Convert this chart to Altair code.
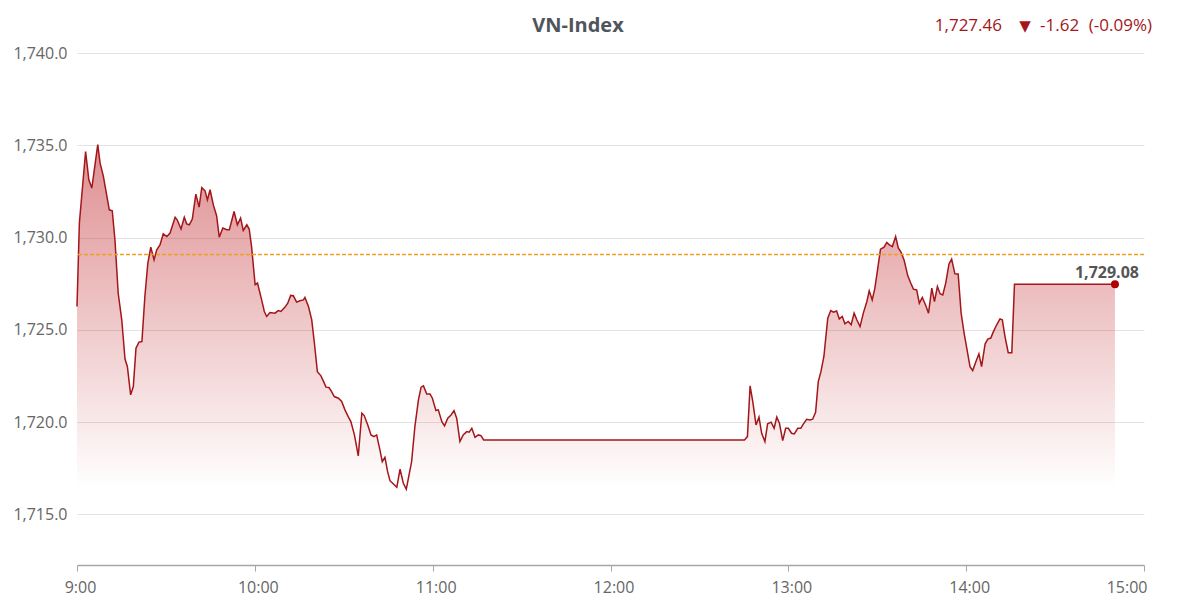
import altair as alt
import pandas as pd

# minutes after 9:00 and index value
minutes = [
    0, 0.8, 2.9, 4.0, 5.0, 7.0, 7.8, 8.9, 10.9, 11.9, 12.8, 13.9, 15.1, 16.2, 17.0,
    18.1, 19.0, 19.9, 20.9, 21.9, 22.9, 23.9, 24.9, 26.0, 26.9, 28.0, 29.1, 30.3,
    31.4, 33.1, 33.8, 35.1, 36.2, 37.0, 37.9, 38.9, 40.1, 41.2, 42.1, 43.2, 44.0,
    44.9, 46.0, 47.1, 48.0, 49.2, 50.5, 51.4, 53.0, 54.1, 55.2, 56.1, 57.3, 58.1,
    58.9, 60.1, 60.9,
    62.3, 63.2, 64.0, 65.1, 66.8, 67.9, 68.8, 70.2, 71.1, 72.1, 73.0, 74.1, 75.2,
    76.4, 76.9, 78.1, 79.2, 80.1, 81.1, 82.3, 83.2, 84.0, 85.0, 85.9, 86.8, 88.2,
    89.3, 90.4, 91.5, 92.4, 93.6, 94.9, 96.1, 96.9, 98.1, 99.2, 100.2, 101.1, 102.2,
    103.0, 103.9, 104.8, 105.6, 106.5, 107.9, 109.0, 110.1, 111.1, 112.9, 114.0,
    115.2, 116.1, 116.9, 118.0, 119.1, 119.9, 121.1, 121.9, 123.1, 124.0, 125.1,
    126.2, 127.2, 128.1, 129.2, 130.3, 131.5, 132.3, 133.2, 134.3, 135.4, 136.3,
    137.2, 225.2,
    226.2, 227.1, 228.0, 229.1, 230.1, 231.0, 232.1, 233.0, 234.2, 235.2, 236.1,
    237.0, 238.1, 239.1, 240.0, 241.1, 242.0, 243.2, 244.2, 245.1, 246.2, 247.3,
    248.2, 249.2, 250.1, 251.0, 252.0, 253.3, 254.3, 255.2, 256.3, 257.2, 258.2,
    259.1, 260.2, 261.2, 262.2, 263.1, 264.2, 265.3, 266.5, 267.3, 268.3, 269.2,
    270.1, 271.1, 272.3, 273.2, 274.1, 275.1, 276.2, 277.1, 278.0, 279.1, 280.3,
    281.3, 282.2, 283.3, 284.2, 285.2, 286.4, 287.3, 288.4, 289.3,
    290.3, 291.2, 292.1, 293.1, 294.2, 295.1, 296.2, 297.3, 298.3, 299.3, 300.2,
    301.3, 302.2, 303.3, 304.3, 305.2, 306.4, 307.3, 308.3, 309.2, 310.3, 311.4,
    312.2, 313.1, 314.2, 315.4, 316.3, 350.2,
]
values = [
    1726.26, 1730.78, 1734.66, 1733.13, 1732.68, 1735.03, 1734.03, 1733.31, 1731.50,
    1731.45, 1729.88, 1726.98, 1725.54, 1723.41, 1723.00, 1721.47, 1721.92, 1724.00,
    1724.33, 1724.36, 1726.80, 1728.61, 1729.48, 1728.79, 1729.33, 1729.60, 1730.20,
    1730.05, 1730.24, 1731.10, 1730.96, 1730.46, 1731.10, 1730.74, 1730.69, 1731.00,
    1732.35, 1731.65, 1732.71, 1732.53, 1732.04, 1732.59, 1731.77, 1731.18, 1730.02,
    1730.51, 1730.42, 1730.42, 1731.41, 1730.69, 1731.05, 1730.38, 1730.69, 1730.46,
    1729.51, 1727.44, 1727.53,
    1726.62, 1725.99, 1725.72, 1725.93, 1725.90, 1726.04, 1725.99, 1726.23, 1726.44,
    1726.86, 1726.84, 1726.50, 1726.57, 1726.62, 1726.75, 1726.26, 1725.54, 1724.27,
    1722.73, 1722.50, 1722.19, 1721.89, 1721.87, 1721.65, 1721.38, 1721.29, 1721.11,
    1720.66, 1720.29, 1720.02, 1719.30, 1718.16, 1720.48, 1720.35, 1719.84, 1719.30,
    1719.21, 1719.30, 1718.49, 1717.85, 1718.09, 1717.31, 1716.82, 1716.68, 1716.46,
    1717.44, 1716.68, 1716.36, 1717.85, 1719.75, 1721.20, 1721.89, 1721.96, 1721.52,
    1721.52, 1721.29, 1720.62, 1720.66, 1720.02, 1719.79, 1720.21, 1720.38, 1720.62,
    1720.21, 1718.94, 1719.30, 1719.48, 1719.45, 1719.66, 1719.17, 1719.30, 1719.26,
    1719.03, 1719.03,
    1719.21, 1721.96, 1721.11, 1719.84, 1720.26, 1719.39, 1718.94, 1719.90, 1719.99,
    1719.66, 1720.26, 1719.93, 1718.99, 1719.66, 1719.66, 1719.39, 1719.35, 1719.66,
    1719.66, 1719.90, 1720.15, 1720.11, 1720.15, 1720.53, 1722.19, 1722.73, 1723.55,
    1725.63, 1726.04, 1725.95, 1726.02, 1725.59, 1725.72, 1725.32, 1725.45, 1725.27,
    1725.90, 1725.54, 1725.17, 1725.90, 1726.53, 1727.11, 1726.62, 1727.26, 1728.25,
    1729.37, 1729.48, 1729.73, 1729.60, 1729.51, 1730.05, 1729.43, 1729.21, 1728.75,
    1727.92, 1727.53, 1727.20, 1727.16, 1726.44, 1726.75, 1726.30, 1725.90, 1727.26,
    1726.53,
    1727.34, 1726.95, 1726.89, 1727.53, 1728.57, 1728.83, 1728.03, 1728.02, 1725.90,
    1724.82, 1724.00, 1723.00, 1722.79, 1723.28, 1723.69, 1723.00, 1724.24, 1724.49,
    1724.55, 1724.90, 1725.27, 1725.59, 1725.54, 1724.63, 1723.76, 1723.76, 1727.46,
    1727.46,
]

ref_price = 1729.08
last_value = 1727.46
change = -1.62
change_pct = -0.09

hour_ticks = [0, 60, 120, 180, 240, 300, 360]
y_ticks = [1715, 1720, 1725, 1730, 1735, 1740]

FONT = "Open Sans"
RED = "#a3161a"

df = pd.DataFrame({"minute": minutes, "value": values})
df["base"] = min(values)

x_scale = alt.Scale(domain=[0, 360], nice=False)
y_scale = alt.Scale(domain=[1712.25, 1740], nice=False, zero=False)

x_axis = alt.Axis(
    values=hour_ticks,
    labelExpr="floor(datum.value / 60) + 9 + ':00'",
    grid=False,
    domainColor="#a6a6a6",
    domainWidth=1.5,
    tickColor="#a6a6a6",
    tickSize=6,
    labelPadding=8,
    labelOffset=3,
    labelAlign={"condition": {"test": "datum.value == 360", "value": "right"}, "value": "center"},
    labelColor="#666666",
    labelFontSize=16,
    labelFont=FONT,
    title=None,
)
y_axis = alt.Axis(
    values=y_ticks,
    format=",.1f",
    domain=False,
    ticks=False,
    gridColor="#e3e3e3",
    labelPadding=10,
    labelColor="#666666",
    labelFontSize=16,
    labelFont=FONT,
    title=None,
)

area = alt.Chart(df).mark_area(
    color=alt.Gradient(
        gradient="linear",
        stops=[
            alt.GradientStop(color="rgba(190,30,35,0.5)", offset=0),
            alt.GradientStop(color="rgba(190,30,35,0)", offset=1),
        ],
        x1=1, x2=1, y1=0, y2=1,
    )
).encode(
    x=alt.X("minute:Q", scale=x_scale, axis=x_axis),
    y=alt.Y("value:Q", scale=y_scale, axis=y_axis),
    y2="base:Q",
)

line = alt.Chart(df).mark_line(color=RED, strokeWidth=1.5).encode(
    x="minute:Q", y="value:Q"
)

ref_rule = alt.Chart(pd.DataFrame({"ref": [ref_price]})).mark_rule(
    color="#eea020", strokeWidth=1.3, strokeDash=[4, 2]
).encode(y="ref:Q")

last = pd.DataFrame({
    "minute": [minutes[-1]],
    "value": [values[-1]],
    "label": [f"{ref_price:,.2f}"],
})
end_point = alt.Chart(last).mark_circle(size=64, color="#b00000", opacity=1).encode(
    x="minute:Q", y="value:Q"
)
end_label = alt.Chart(last).mark_text(
    font=FONT, fontSize=16, fontWeight="bold", color="#555555", dx=-8, dy=-11
).encode(x="minute:Q", y="value:Q", text="label:N")

header = pd.DataFrame({
    "title": ["VN-Index"],
    "price": [f"{last_value:,.2f}"],
    "arrow": ["\u25bc"],
    "change": [f"{change:.2f}"],
    "pct": [f"({change_pct:.2f}%)"],
})
title = alt.Chart(header).mark_text(
    font=FONT, fontSize=20, fontWeight="bold", color="#50555b", baseline="middle"
).encode(x=alt.value(501), y=alt.value(-27), text="title:N")
price = alt.Chart(header).mark_text(
    font=FONT, fontSize=17, color=RED, align="right", baseline="middle"
).encode(x=alt.value(925), y=alt.value(-27), text="price:N")
arrow = alt.Chart(header).mark_text(
    font="DejaVu Sans", fontSize=15, color=RED, align="center", baseline="middle"
).encode(x=alt.value(948), y=alt.value(-27), text="arrow:N")
delta = alt.Chart(header).mark_text(
    font=FONT, fontSize=17, color=RED, align="left", baseline="middle"
).encode(x=alt.value(963), y=alt.value(-27), text="change:N")
pct = alt.Chart(header).mark_text(
    font=FONT, fontSize=17, color=RED, align="right", baseline="middle"
).encode(x=alt.value(1075), y=alt.value(-27), text="pct:N")

chart = alt.layer(
    area, line, ref_rule, end_point, end_label, title, price, arrow, delta, pct
).properties(
    width=1067,
    height=512,
    autosize=alt.AutoSizeParams(type="none"),
    padding={"left": 69, "top": 45, "right": 14, "bottom": 36},
    background="white",
).configure_view(stroke=None)

chart.save("out.html", embed_options={"renderer": "svg", "actions": False})
